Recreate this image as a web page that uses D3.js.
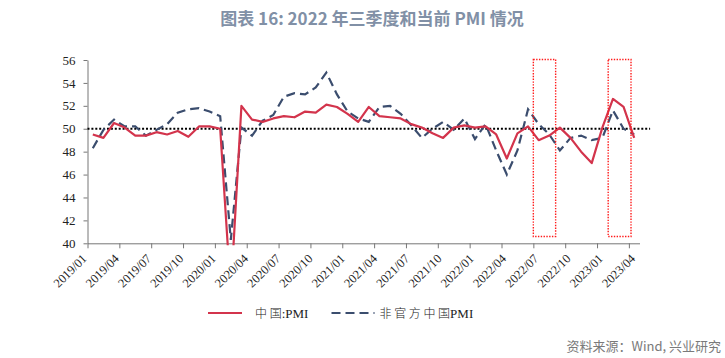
<!DOCTYPE html>
<html>
<head>
<meta charset="utf-8">
<script src="https://cdn.jsdelivr.net/npm/d3@7"></script>
<style>
  body { margin: 0; background: #fff; }
  svg { display: block; }
</style>
</head>
<body>
<div id="chart"></div>
<script>
// monthly categories 2019/01 .. 2023/04
const months = [
  "2019/01","2019/02","2019/03","2019/04","2019/05","2019/06","2019/07","2019/08","2019/09","2019/10","2019/11","2019/12",
  "2020/01","2020/02","2020/03","2020/04","2020/05","2020/06","2020/07","2020/08","2020/09","2020/10","2020/11","2020/12",
  "2021/01","2021/02","2021/03","2021/04","2021/05","2021/06","2021/07","2021/08","2021/09","2021/10","2021/11","2021/12",
  "2022/01","2022/02","2022/03","2022/04","2022/05","2022/06","2022/07","2022/08","2022/09","2022/10","2022/11","2022/12",
  "2023/01","2023/02","2023/03","2023/04"
];

// 中国:PMI (official)
const officialPMI = [
  49.5, 49.2, 50.5, 50.1, 49.4, 49.4, 49.7, 49.5, 49.8, 49.3, 50.2, 50.2,
  50.0, 35.7, 52.0, 50.8, 50.6, 50.9, 51.1, 51.0, 51.5, 51.4, 52.1, 51.9,
  51.3, 50.6, 51.9, 51.1, 51.0, 50.9, 50.4, 50.1, 49.6, 49.2, 50.1, 50.3,
  50.1, 50.2, 49.5, 47.4, 49.6, 50.2, 49.0, 49.4, 50.1, 49.2, 48.0, 47.0,
  50.1, 52.6, 51.9, 49.2
];

// 非官方中国PMI
const unofficialPMI = [
  48.3, 49.9, 50.8, 50.2, 50.2, 49.4, 49.9, 50.4, 51.4, 51.7, 51.8, 51.5,
  51.1, 40.3, 50.1, 49.4, 50.7, 51.2, 52.8, 53.1, 53.0, 53.6, 54.9, 53.0,
  51.5, 50.9, 50.6, 51.9, 52.0, 51.3, 50.3, 49.2, 50.0, 50.6, 49.9, 50.9,
  49.1, 50.4, 48.1, 46.0, 48.1, 51.7, 50.4, 49.5, 48.1, 49.2, 49.4, 49.0,
  49.2, 51.6, 50.0, 49.5
];

const yTicks = [40, 42, 44, 46, 48, 50, 52, 54, 56];
const xTickLabels = ["2019/01","2019/04","2019/07","2019/10","2020/01","2020/04","2020/07","2020/10",
  "2021/01","2021/04","2021/07","2021/10","2022/01","2022/04","2022/07","2022/10","2023/01","2023/04"];

const refValue = 50;
// highlight boxes, in category units [from, to]
const boxes = [[42, 44.1], [49.05, 51.2]];

const legendItems = [
  { cn: "中 国", en: ":PMI", color: "#d3344c", dash: null },
  { cn: "非 官 方 中 国", en: "PMI", color: "#3b4d6e", dash: "9,5" }
];

const W = 725, H = 358;
const PLOT = { left: 87.5, right: 639.5, top: 60, bottom: 243.3 };

const svg = d3.select("#chart").append("svg")
  .attr("width", W).attr("height", H);

// title
svg.append("text")
  .attr("x", 372).attr("y", 25)
  .attr("text-anchor", "middle")
  .style("font-family", "'Noto Sans CJK SC', 'Noto Sans', sans-serif")
  .style("font-size", "17px")
  .style("font-weight", "700")
  .style("fill", "#8190a6")
  .text("图表 16: 2022 年三季度和当前 PMI 情况");

const x = d3.scaleLinear().domain([0, months.length]).range([PLOT.left, PLOT.right]);
const y = d3.scaleLinear().domain([40, 56]).range([PLOT.bottom, PLOT.top]);
const labelX = d3.scaleLinear().domain([0, 51]).range([87.5, 636]);

svg.append("defs").append("clipPath").attr("id", "plot-clip")
  .append("rect")
  .attr("x", PLOT.left).attr("y", PLOT.top - 5)
  .attr("width", W - PLOT.left).attr("height", PLOT.bottom - PLOT.top + 7);

// ── axes ──
const yAxis = svg.append("g")
  .attr("transform", `translate(${PLOT.left},0)`)
  .call(d3.axisLeft(y).tickValues(yTicks).tickSize(4).tickPadding(8).tickSizeOuter(0));
yAxis.select(".domain").attr("stroke", "#777");
yAxis.selectAll(".tick line").attr("stroke", "#777");
yAxis.selectAll("text")
  .style("font-family", "'Liberation Serif', 'Times New Roman', serif")
  .style("font-size", "13px")
  .style("fill", "#222");

const tickIdx = xTickLabels.map(l => months.indexOf(l));
const xAxis = svg.append("g")
  .attr("transform", `translate(0,${PLOT.bottom})`)
  .call(d3.axisBottom(x).tickValues(tickIdx).tickSize(5).tickSizeOuter(0).tickFormat(""));
xAxis.select(".domain").attr("stroke", "#777");
xAxis.selectAll(".tick line").attr("stroke", "#777");

svg.append("g").selectAll("text.xlab")
  .data(tickIdx)
  .join("text")
  .attr("class", "xlab")
  .attr("transform", d => `translate(${labelX(d)},${PLOT.bottom + 16}) rotate(-45)`)
  .attr("text-anchor", "end")
  .style("font-family", "'Liberation Serif', 'Times New Roman', serif")
  .style("font-size", "12.5px")
  .style("fill", "#222")
  .text(d => months[d]);

// ── reference line at 50 ──
svg.append("line")
  .attr("x1", x(0)).attr("x2", x(53))
  .attr("y1", y(refValue)).attr("y2", y(refValue))
  .attr("stroke", "#000")
  .attr("stroke-width", 2.2)
  .attr("stroke-dasharray", "2,1.9");

// ── series ──
const line = d3.line()
  .x((d, i) => x(i + 0.5))
  .y(d => y(d));

const lines = svg.append("g").attr("clip-path", "url(#plot-clip)");

lines.append("path")
  .datum(unofficialPMI)
  .attr("fill", "none")
  .attr("stroke", "#3b4d6e")
  .attr("stroke-width", 2.2)
  .attr("stroke-dasharray", "9,5")
  .attr("d", line);

lines.append("path")
  .datum(officialPMI)
  .attr("fill", "none")
  .attr("stroke", "#d3344c")
  .attr("stroke-width", 2.2)
  .attr("stroke-linejoin", "round")
  .attr("d", line);

// ── highlight boxes ──
svg.append("g").selectAll("rect.hl")
  .data(boxes)
  .join("rect")
  .attr("class", "hl")
  .attr("x", d => x(d[0]))
  .attr("width", d => x(d[1]) - x(d[0]))
  .attr("y", y(56.05))
  .attr("height", y(40.6) - y(56.05))
  .attr("fill", "none")
  .attr("stroke", "#ff1a1a")
  .attr("stroke-width", 1.4)
  .attr("stroke-dasharray", "1.4,1.4");

// ── legend ──
const legend = svg.append("g").attr("transform", "translate(208,313)");
const legendOffsets = [0, 123.5];
legendItems.forEach((it, i) => {
  const g = legend.append("g").attr("transform", `translate(${legendOffsets[i]},0)`);
  g.append("line")
    .attr("x1", 0).attr("x2", i === 0 ? 34 : 43)
    .attr("y1", 0).attr("y2", 0)
    .attr("stroke", it.color)
    .attr("stroke-width", 2.2)
    .attr("stroke-dasharray", it.dash);
  const t = g.append("text")
    .attr("x", i === 0 ? 47 : 48)
    .attr("y", 4.5)
    .style("font-size", "12px")
    .style("fill", "#222");
  t.append("tspan")
    .style("font-family", "'Noto Sans CJK SC', sans-serif")
    .style("font-weight", "300")
    .text(it.cn);
  t.append("tspan")
    .style("font-family", "'Liberation Serif', serif")
    .style("font-size", "13px")
    .text(it.en);
});

// source
svg.append("text")
  .attr("x", 721).attr("y", 351)
  .attr("text-anchor", "end")
  .style("font-family", "'Noto Sans CJK SC', 'Noto Sans', sans-serif")
  .style("font-size", "13px")
  .style("fill", "#7a7a7a")
  .text("资料来源：Wind, 兴业研究");
</script>
</body>
</html>
